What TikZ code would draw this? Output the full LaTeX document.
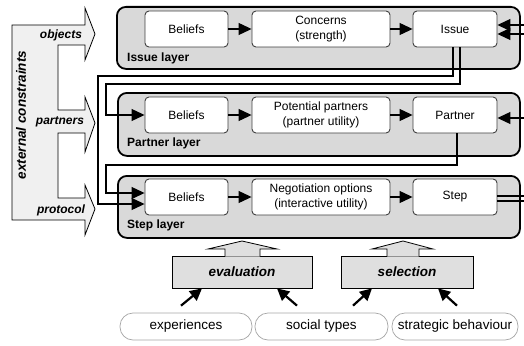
\documentclass[tikz,border=0pt]{standalone}
\usepackage{fontspec}
\setmainfont{Liberation Sans}
\usetikzlibrary{arrows.meta,calc}
\tikzset{
  layer/.style={draw=black, line width=1.8pt, fill=gray!30, rounded corners=9pt, anchor=north west, inner sep=0pt},
  inbox/.style={draw=black!75, line width=0.9pt, fill=white, rounded corners=4pt, minimum height=36pt, align=center, inner sep=1pt, font=\fontsize{12}{15}\selectfont},
  conn/.style={draw=black, line width=1.1pt, -{Triangle[length=13pt,width=12pt]}},
  plainline/.style={draw=black, line width=1.1pt},
  layerlabel/.style={font=\bfseries\fontsize{12}{14}\selectfont, anchor=west, inner sep=0pt},
  bilabel/.style={font=\bfseries\itshape\fontsize{12}{14}\selectfont, inner sep=0pt},
  evalbox/.style={draw=black, line width=0.8pt, fill=gray!25, minimum width=140pt, minimum height=32pt, font=\bfseries\itshape\fontsize{13.5}{16}\selectfont},
  botnode/.style={draw=gray!70, line width=0.7pt, rounded corners=13pt, minimum height=27pt, fill=white, font=\fontsize{13.5}{16}\selectfont},
  barr/.style={draw=black, line width=2.2pt, -{Triangle[length=12pt,width=12pt]}},
}
\begin{document}
\begin{tikzpicture}[x=1pt,y=-1pt]
\useasboundingbox (0,0) rectangle (524,345);

% left external constraints shape
\filldraw[fill=gray!12, draw=black, line width=0.8pt]
  (12,25) -- (85,25) -- (85,8) -- (95,34) -- (85,60) -- (85,45) -- (58,45) -- (58,110)
  -- (85,110) -- (85,97) -- (95,123) -- (85,152) -- (85,133) -- (58,133) -- (58,198)
  -- (85,198) -- (85,185) -- (95,209) -- (85,235) -- (85,220) -- (12,220) -- cycle;
\node[font=\bfseries\itshape\fontsize{13.5}{16}\selectfont, rotate=90, inner sep=0pt] (ext) at (21,115) {external constraints};
\node[bilabel] (obj) at (61,35) {objects};
\node[bilabel] (prt) at (60,122) {partners};
\node[bilabel] (pro) at (61,210) {protocol};

% layers
\node[layer, minimum width=403pt, minimum height=62pt] (L1) at (116,6) {};
\node[layer, minimum width=402pt, minimum height=63pt] (L2) at (117,92) {};
\node[layer, minimum width=402pt, minimum height=62pt] (L3) at (117,175) {};
\node[layerlabel] (L1l) at (127,58) {Issue layer};
\node[layerlabel] (L2l) at (127,143) {Partner layer};
\node[layerlabel] (L3l) at (127,225) {Step layer};

% inner boxes
\node[inbox, minimum width=83pt] (ib) at (186.5,29) {Beliefs};
\node[inbox, minimum width=138pt] (ic) at (321,29) {Concerns\\(strength)};
\node[inbox, minimum width=84pt] (iss) at (455,29) {Issue};
\node[inbox, minimum width=83pt] (pb) at (186.5,115) {Beliefs};
\node[inbox, minimum width=138pt] (pp) at (321,115) {Potential partners\\(partner utility)};
\node[inbox, minimum width=84pt] (par) at (455,115) {Partner};
\node[inbox, minimum width=83pt] (sb) at (186.5,197) {Beliefs};
\node[inbox, minimum width=138pt] (sn) at (321,197) {Negotiation options\\(interactive utility)};
\node[inbox, minimum width=84pt] (st) at (455,197) {Step};

\draw[conn] (ib) -- (ic);
\draw[conn] (ic) -- (iss);
\draw[conn] (pb) -- (pp);
\draw[conn] (pp) -- (par);
\draw[conn] (sb) -- (sn);
\draw[conn] (sn) -- (st);

% feedback connectors
\coordinate (k1) at (98,76);
\coordinate (k2) at (106,84);
\coordinate (k3) at (106,165);
\draw[conn] ($(iss.south)+(-2,0)$) |- (k1) |- ($(sb.west)+(0,7)$);
\draw[conn] ($(iss.south)+(5,0)$) |- (k2) |- (pb.west);
\draw[conn] ($(par.south)+(2,0)$) |- (k3) |- ($(sb.west)+(0,-4)$);

% right side lines
\coordinate (e1) at (524,25);
\coordinate (e2) at (524,34);
\coordinate (e3) at (524,118);
\coordinate (e4) at (524,196);
\coordinate (e5) at (524,201);
\draw[conn] (e1) -- (e1 -| iss.east);
\draw[conn] (e2) -- (e2 -| iss.east);
\draw[conn] (e3) -- (e3 -| par.east);
\draw[plainline] (e4 -| st.east) -- (e4);
\draw[plainline] (e5 -| st.east) -- (e5);

% evaluation / selection block arrows
\node[evalbox] (eval) at (242,272) {evaluation};
\node[evalbox, minimum width=132pt] (sel) at (407,272) {selection};
\filldraw[fill=gray!25, draw=black, line width=0.8pt]
  (225,256.7) -- (225,249) -- (208,249) -- (242,241) -- (277,249) -- (260,249) -- (260,256.7);
\filldraw[fill=gray!25, draw=black, line width=0.8pt]
  (387,256.7) -- (387,249) -- (372,249) -- (403,241) -- (433,249) -- (419,249) -- (419,256.7);

% bottom nodes
\node[botnode, minimum width=132pt] (exp) at (186,326.5) {experiences};
\node[botnode, minimum width=133pt] (soc) at (321.5,326.5) {social types};
\node[botnode, minimum width=126pt] (str) at (455,326.5) {strategic behaviour};

\draw[barr] ($(exp.north)+(-5,-7)$) -- ($(eval.south)+(-40,0)$);
\draw[barr] ($(soc.north)+(-24.5,-7)$) -- ($(eval.south)+(35,0)$);
\draw[barr] ($(soc.north)+(31.5,-7)$) -- ($(sel.south)+(-35,0)$);
\draw[barr] ($(str.north)+(2,-7)$) -- ($(sel.south)+(31,0)$);
\end{tikzpicture}
\end{document}
